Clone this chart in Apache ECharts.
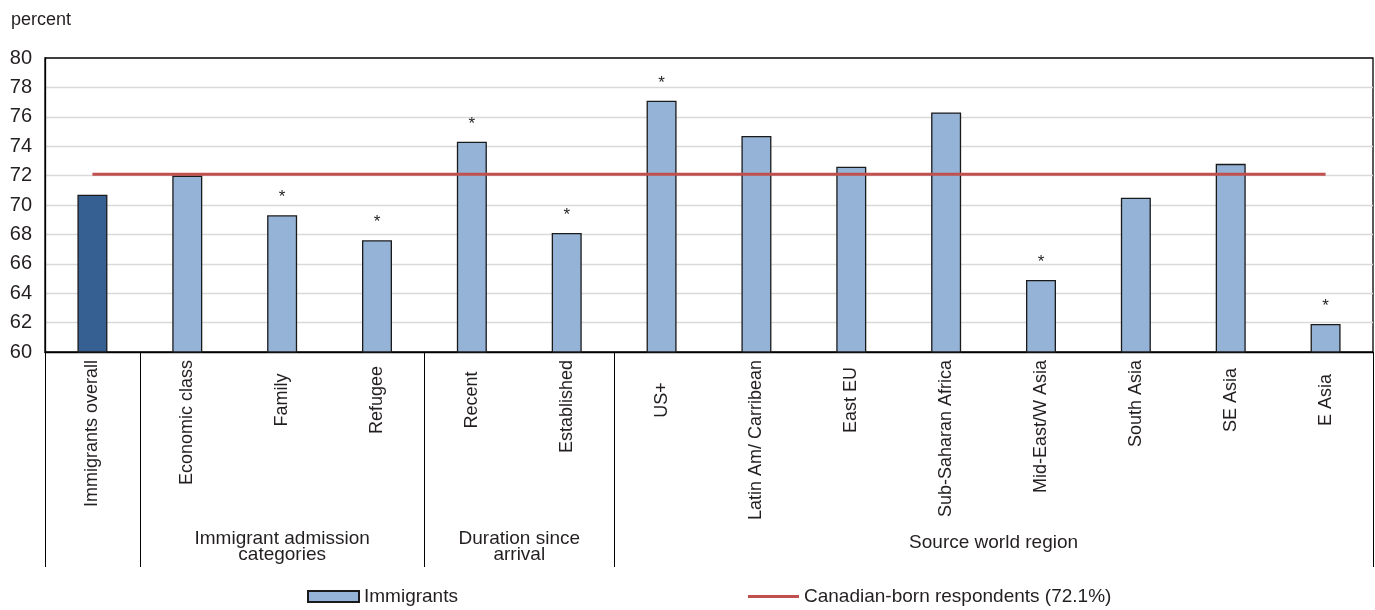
<!DOCTYPE html>
<html>
<head>
<meta charset="utf-8">
<script src="https://cdn.jsdelivr.net/npm/echarts@6/dist/echarts.min.js"></script>
<style>
html,body{margin:0;padding:0;background:#fff;}
#chart{width:1375px;height:610px;}
</style>
</head>
<body>
<div id="chart"></div>
<script>
const categories = ['Immigrants overall','Economic class','Family','Refugee','Recent','Established','US+','Latin Am/ Carribean','East EU','Sub-Saharan Africa','Mid-East/W Asia','South Asia','SE Asia','E Asia'];
const immigrants = [70.7, 72.0, 69.3, 67.6, 74.3, 68.1, 77.1, 74.7, 72.6, 76.3, 64.9, 70.5, 72.8, 61.9];
const significant = [false, false, true, true, true, true, true, false, false, false, true, false, false, true];
const canadianBorn = [72.1, 72.1, 72.1, 72.1, 72.1, 72.1, 72.1, 72.1, 72.1, 72.1, 72.1, 72.1, 72.1, 72.1];
const groups = [
  {name: 'Immigrant admission\ncategories', from: 1, to: 3},
  {name: 'Duration since\narrival', from: 4, to: 5},
  {name: 'Source world region', from: 6, to: 13}
];
const groupBoundaries = [0, 1, 4, 6];
const yTicks = [60, 62, 64, 66, 68, 70, 72, 74, 76, 78, 80];

const FONT = '"Liberation Sans", Arial, sans-serif';
const TXT = '#231f20';
const LABEL_SIZE = 18;

// measure label lengths to mimic the centered-in-box label placement
const cv = document.createElement('canvas').getContext('2d');
cv.font = LABEL_SIZE + 'px ' + FONT;
const rich = {};
categories.forEach((c, i) => {
  const L = cv.measureText(c).width;
  const pad = Math.max(0, 40 - L / 2);
  rich['l' + i] = {padding: [0, pad, 0, 0], fontSize: LABEL_SIZE, fontFamily: FONT, color: TXT};
});

const chart = echarts.init(document.getElementById('chart'), null, {renderer: 'canvas'});

const option = {
  animation: false,
  backgroundColor: '#fff',
  textStyle: {fontFamily: FONT, color: TXT},
  title: {
    text: 'percent', left: 6, top: 6,
    textStyle: {fontSize: 18, fontWeight: 'normal', color: TXT, fontFamily: FONT}
  },
  grid: {
    left: 45, right: 2, top: 58, bottom: 258,
    show: true, borderColor: '#000', borderWidth: 1.3, backgroundColor: 'transparent'
  },
  legend: [
    {
      data: [{name: 'Immigrants', icon: 'rect'}], left: 307, top: 587, padding: 0,
      itemWidth: 51, itemHeight: 11, itemGap: 6,
      textStyle: {fontSize: 19, color: TXT, fontFamily: FONT}
    },
    {
      data: [{name: 'Canadian-born respondents (72.1%)', icon: 'rect'}], left: 748, top: 587, padding: 0,
      itemWidth: 51, itemHeight: 3,
      itemStyle: {color: '#c0504d', borderWidth: 0},
      textStyle: {fontSize: 19, color: TXT, fontFamily: FONT}
    }
  ],
  xAxis: {
    type: 'category',
    data: categories,
    boundaryGap: true,
    axisLine: {lineStyle: {color: '#000', width: 1.3}},
    axisTick: {
      show: true,
      length: 215,
      interval: (i) => groupBoundaries.indexOf(i) >= 0,
      lineStyle: {color: '#000', width: 1}
    },
    axisLabel: {
      rotate: 90,
      interval: 0,
      margin: 8,
      formatter: (v) => '{l' + categories.indexOf(v) + '|' + v + '}',
      rich: rich
    }
  },
  yAxis: {
    type: 'value',
    min: 60, max: 80, interval: 2,
    axisLine: {show: true, lineStyle: {color: '#000', width: 1.3}},
    axisTick: {show: false},
    axisLabel: {
      margin: 13, fontSize: 20, color: TXT, fontFamily: FONT,
      formatter: (v) => yTicks.indexOf(v) >= 0 ? String(v) : ''
    },
    splitLine: {showMaxLine: false, showMinLine: false, lineStyle: {color: '#d9d9d9', width: 1.3}}
  },
  series: [
    {
      name: 'Immigrants',
      type: 'bar',
      barWidth: 30,
      itemStyle: {color: '#95b3d7', borderColor: '#1a1a1a', borderWidth: 1.3},
      data: immigrants.map((v, i) => i === 0
        ? {value: v, itemStyle: {color: '#376092'}}
        : v),
      label: {
        show: true,
        position: 'top',
        distance: 9,
        fontSize: 17,
        color: TXT,
        fontFamily: FONT,
        formatter: (p) => significant[p.dataIndex] ? '*' : ''
      },
      z: 2
    },
    {
      name: 'Canadian-born respondents (72.1%)',
      type: 'line',
      data: canadianBorn,
      symbol: 'none',
      lineStyle: {color: '#c0504d', width: 3},
      itemStyle: {color: '#c0504d'},
      z: 3
    }
  ]
};
chart.setOption(option);

// group labels under the category labels, centered on each group's span
const graphics = groups.map(g => {
  const x0 = chart.convertToPixel({xAxisIndex: 0}, categories[g.from]);
  const x1 = chart.convertToPixel({xAxisIndex: 0}, categories[g.to]);
  const twoLines = g.name.indexOf('\n') >= 0;
  return {
    type: 'text',
    x: (x0 + x1) / 2,
    y: twoLines ? 547 : 543,
    style: {
      text: g.name,
      font: '19px ' + FONT,
      fill: TXT,
      align: 'center',
      verticalAlign: 'middle',
      lineHeight: 16
    }
  };
});
chart.setOption({graphic: graphics});
</script>
</body>
</html>
